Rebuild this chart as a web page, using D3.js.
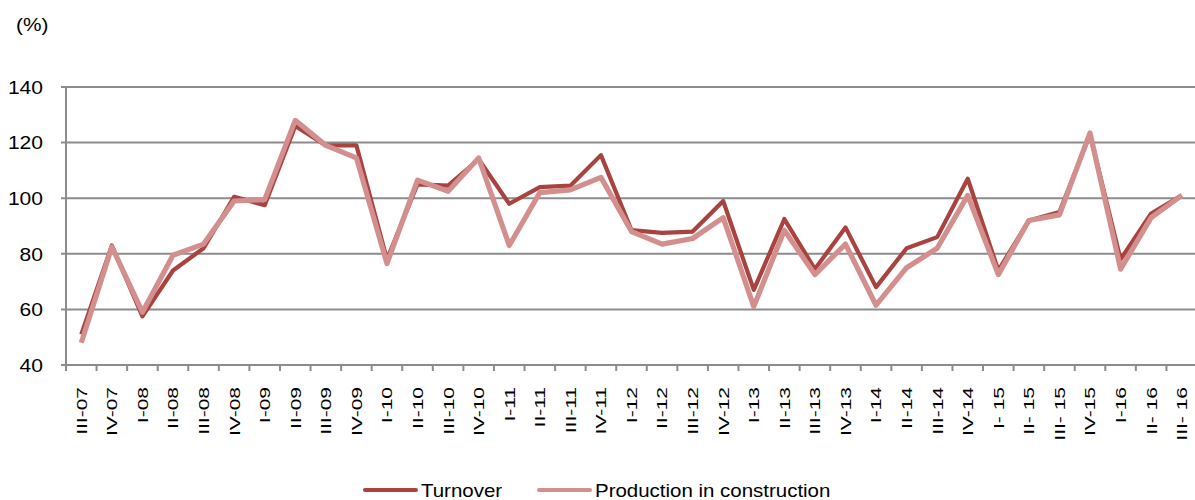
<!DOCTYPE html>
<meta charset="utf-8">
<style>
body { margin: 0; background: #fff; }
text { font-family: "Liberation Sans", Arial, sans-serif; fill: #000; }
</style>
<svg width="1195" height="500"></svg>
<script src="https://cdn.jsdelivr.net/npm/d3@7"></script>
<script>

var quarters = ["III-07","IV-07","I-08","II-08","III-08","IV-08","I-09","II-09","III-09","IV-09",
  "I-10","II-10","III-10","IV-10","I-11","II-11","III-11","IV-11","I-12","II-12","III-12","IV-12",
  "I-13","II-13","III-13","IV-13","I-14","II-14","III-14","IV-14","I- 15","II- 15","III- 15","IV-15",
  "I-16","II- 16","III- 16"];

var turnover = [51,83,57.5,74,82,100.5,97.5,126,119,119,
  78,105,104.5,114,98,104,104.5,115.5,88.5,87.5,88,99,
  67,92.5,74.5,89.5,68,82,86,107,74,92,95,123,
  78,94.5,101];

var production = [48,82.5,59,79.5,83.5,99,99.5,128,119,114.5,
  76.5,106.5,102.5,114.5,83,102,103,107.5,88,83.5,85.5,93,
  61,88.5,72.5,83.5,61.5,75,82,101,72.5,92,94,123.5,
  74.5,93,101];

var yTicks = [40,60,80,100,120,140];

var svg = d3.select("svg"),
    plotL = 66, plotR = 1197, plotT = 87, plotB = 365,
    grey = "#8c8c8c";

var x = d3.scaleBand().domain(quarters).range([plotL, plotR]);
var y = d3.scaleLinear().domain([40, 140]).range([plotB, plotT]);

// gridlines
svg.append("g").selectAll("line")
    .data(yTicks)
  .enter().append("line")
    .attr("x1", plotL - 5).attr("x2", 1195)
    .attr("y1", function(d) { return y(d); })
    .attr("y2", function(d) { return y(d); })
    .attr("stroke", grey).attr("stroke-width", 2);

// y axis line
svg.append("line")
    .attr("x1", plotL).attr("x2", plotL)
    .attr("y1", plotT).attr("y2", plotB)
    .attr("stroke", grey).attr("stroke-width", 2);

// y labels
svg.append("g").selectAll("text")
    .data(yTicks)
  .enter().append("text")
    .attr("transform", function(d) { return "translate(43," + y(d) + ") scale(1.12,1)"; })
    .attr("text-anchor", "end")
    .attr("dy", "0.36em")
    .style("font-size", "18.8px")
    .text(function(d) { return d; });

svg.append("text")
    .attr("transform", "translate(16,31) scale(1.12,1)")
    .style("font-size", "18.6px")
    .text("(%)");

// x ticks at band edges
var edges = quarters.map(function(q) { return x(q); }).concat([plotR]);
svg.append("g").selectAll("line")
    .data(edges)
  .enter().append("line")
    .attr("x1", function(d) { return d; })
    .attr("x2", function(d) { return d; })
    .attr("y1", plotB).attr("y2", plotB + 6)
    .attr("stroke", grey).attr("stroke-width", 2);

// x labels
svg.append("g").selectAll("text")
    .data(quarters)
  .enter().append("text")
    .attr("transform", function(d) {
      return "translate(" + (x(d) + x.bandwidth() / 2) + ",387) rotate(-90) scale(1.4,1)";
    })
    .attr("text-anchor", "end")
    .attr("dy", "0.36em")
    .style("font-size", "15px")
    .text(function(d) { return d; });

var line = d3.line()
    .x(function(d, i) { return x(quarters[i]) + x.bandwidth() / 2; })
    .y(function(d) { return y(d); });

svg.append("path")
    .datum(turnover)
    .attr("d", line)
    .attr("fill", "none")
    .attr("stroke", "#a9433f")
    .attr("stroke-width", 4.2)
    .attr("stroke-linejoin", "round");

svg.append("path")
    .datum(production)
    .attr("d", line)
    .attr("fill", "none")
    .attr("stroke", "#d38f8d")
    .attr("stroke-width", 5.2)
    .attr("stroke-linejoin", "round");

// legend
var legend = [
  {name: "Turnover", color: "#a9433f", x: 365},
  {name: "Production in construction", color: "#d38f8d", x: 539}
];
var lg = svg.append("g").selectAll("g")
    .data(legend)
  .enter().append("g");

lg.append("line")
    .attr("x1", function(d) { return d.x; })
    .attr("x2", function(d) { return d.x + 51; })
    .attr("y1", 490).attr("y2", 490)
    .attr("stroke", function(d) { return d.color; })
    .attr("stroke-width", 4)
    .attr("stroke-linecap", "round");

lg.append("text")
    .attr("transform", function(d) { return "translate(" + (d.x + 56) + ",497) scale(1.1,1)"; })
    .style("font-size", "18.6px")
    .text(function(d) { return d.name; });

</script>
